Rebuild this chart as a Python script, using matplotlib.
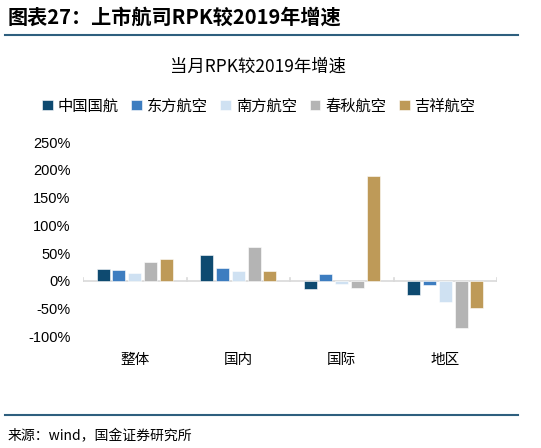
import numpy as np
import matplotlib.pyplot as plt
from matplotlib.lines import Line2D

plt.rcParams['font.family'] = ['Noto Sans CJK SC', 'DejaVu Sans']

# data
categories = ['整体', '国内', '国际', '地区']
airlines = ['中国国航', '东方航空', '南方航空', '春秋航空', '吉祥航空']
ca = [22, 47, -14, -25]
mu = [19, 24, 13, -7]
cz = [14, 18, -5, -38]
spring = [35, 61, -13, -84]
juneyao = [40, 18, 188, -49]
series = [ca, mu, cz, spring, juneyao]
colors = ['#0E4A70', '#3D7DC0', '#CFE1F2', '#B4B4B4', '#BE9A58']
yticks = [-100, -50, 0, 50, 100, 150, 200, 250]

fig = plt.figure(figsize=(5.41, 4.48), dpi=100)
ax = fig.add_axes([83/541, 111.4/448, 414/541, 194.6/448])

x = np.arange(len(categories))
pitch = 0.153
width = 0.126
for i, (vals, c) in enumerate(zip(series, colors)):
    ax.bar(x + (i - 2) * pitch, vals, width, color=c, edgecolor='white',
           linewidth=0.4, label=airlines[i], zorder=3)

ax.set_xlim(-0.5, len(categories) - 0.5)
ax.set_ylim(-100, 250)
ax.set_yticks(yticks)
ax.set_yticklabels(['%d%%' % v for v in yticks], fontsize=10.5,
                   family=['Liberation Sans', 'DejaVu Sans'])
ax.set_xticks(x)
ax.set_xticklabels(categories, fontsize=10.5)
ax.tick_params(axis='both', length=0)
ax.tick_params(axis='y', pad=9)
ax.tick_params(axis='x', pad=12)
for s in ax.spines.values():
    s.set_visible(False)

# zero line with category separators
ax.axhline(0, color='#D9D9D9', lw=1.2, zorder=2)
for b in np.arange(-0.5, len(categories), 1.0):
    ax.plot([b, b], [0, 5], color='#D9D9D9', lw=1.2, zorder=2)

# legend
fig.legend(loc='center', bbox_to_anchor=(0.478, 1 - 106/448), ncol=5, frameon=False,
           fontsize=11, handlelength=0.7, handleheight=0.7, handletextpad=0.3,
           columnspacing=0.85, borderaxespad=0)

fig.text(258/541, 1 - 67/448, '当月RPK较2019年增速', ha='center', va='center', fontsize=12.5)
fig.text(8/541, 1 - 17/448, '图表27：上市航司RPK较2019年增速', ha='left', va='center',
         fontsize=14.5, fontweight='bold', style='italic')
fig.text(8/541, 1 - 436/448, '来源：wind，国金证券研究所', ha='left', va='center', fontsize=10)

fig.add_artist(Line2D([5/541, 518/541], [1 - 35/448] * 2, color='#2E5F7E', lw=1.5))
fig.add_artist(Line2D([5/541, 518/541], [1 - 415/448] * 2, color='#2E5F7E', lw=1.5))

fig.savefig('out.png', dpi=100, facecolor='white')
